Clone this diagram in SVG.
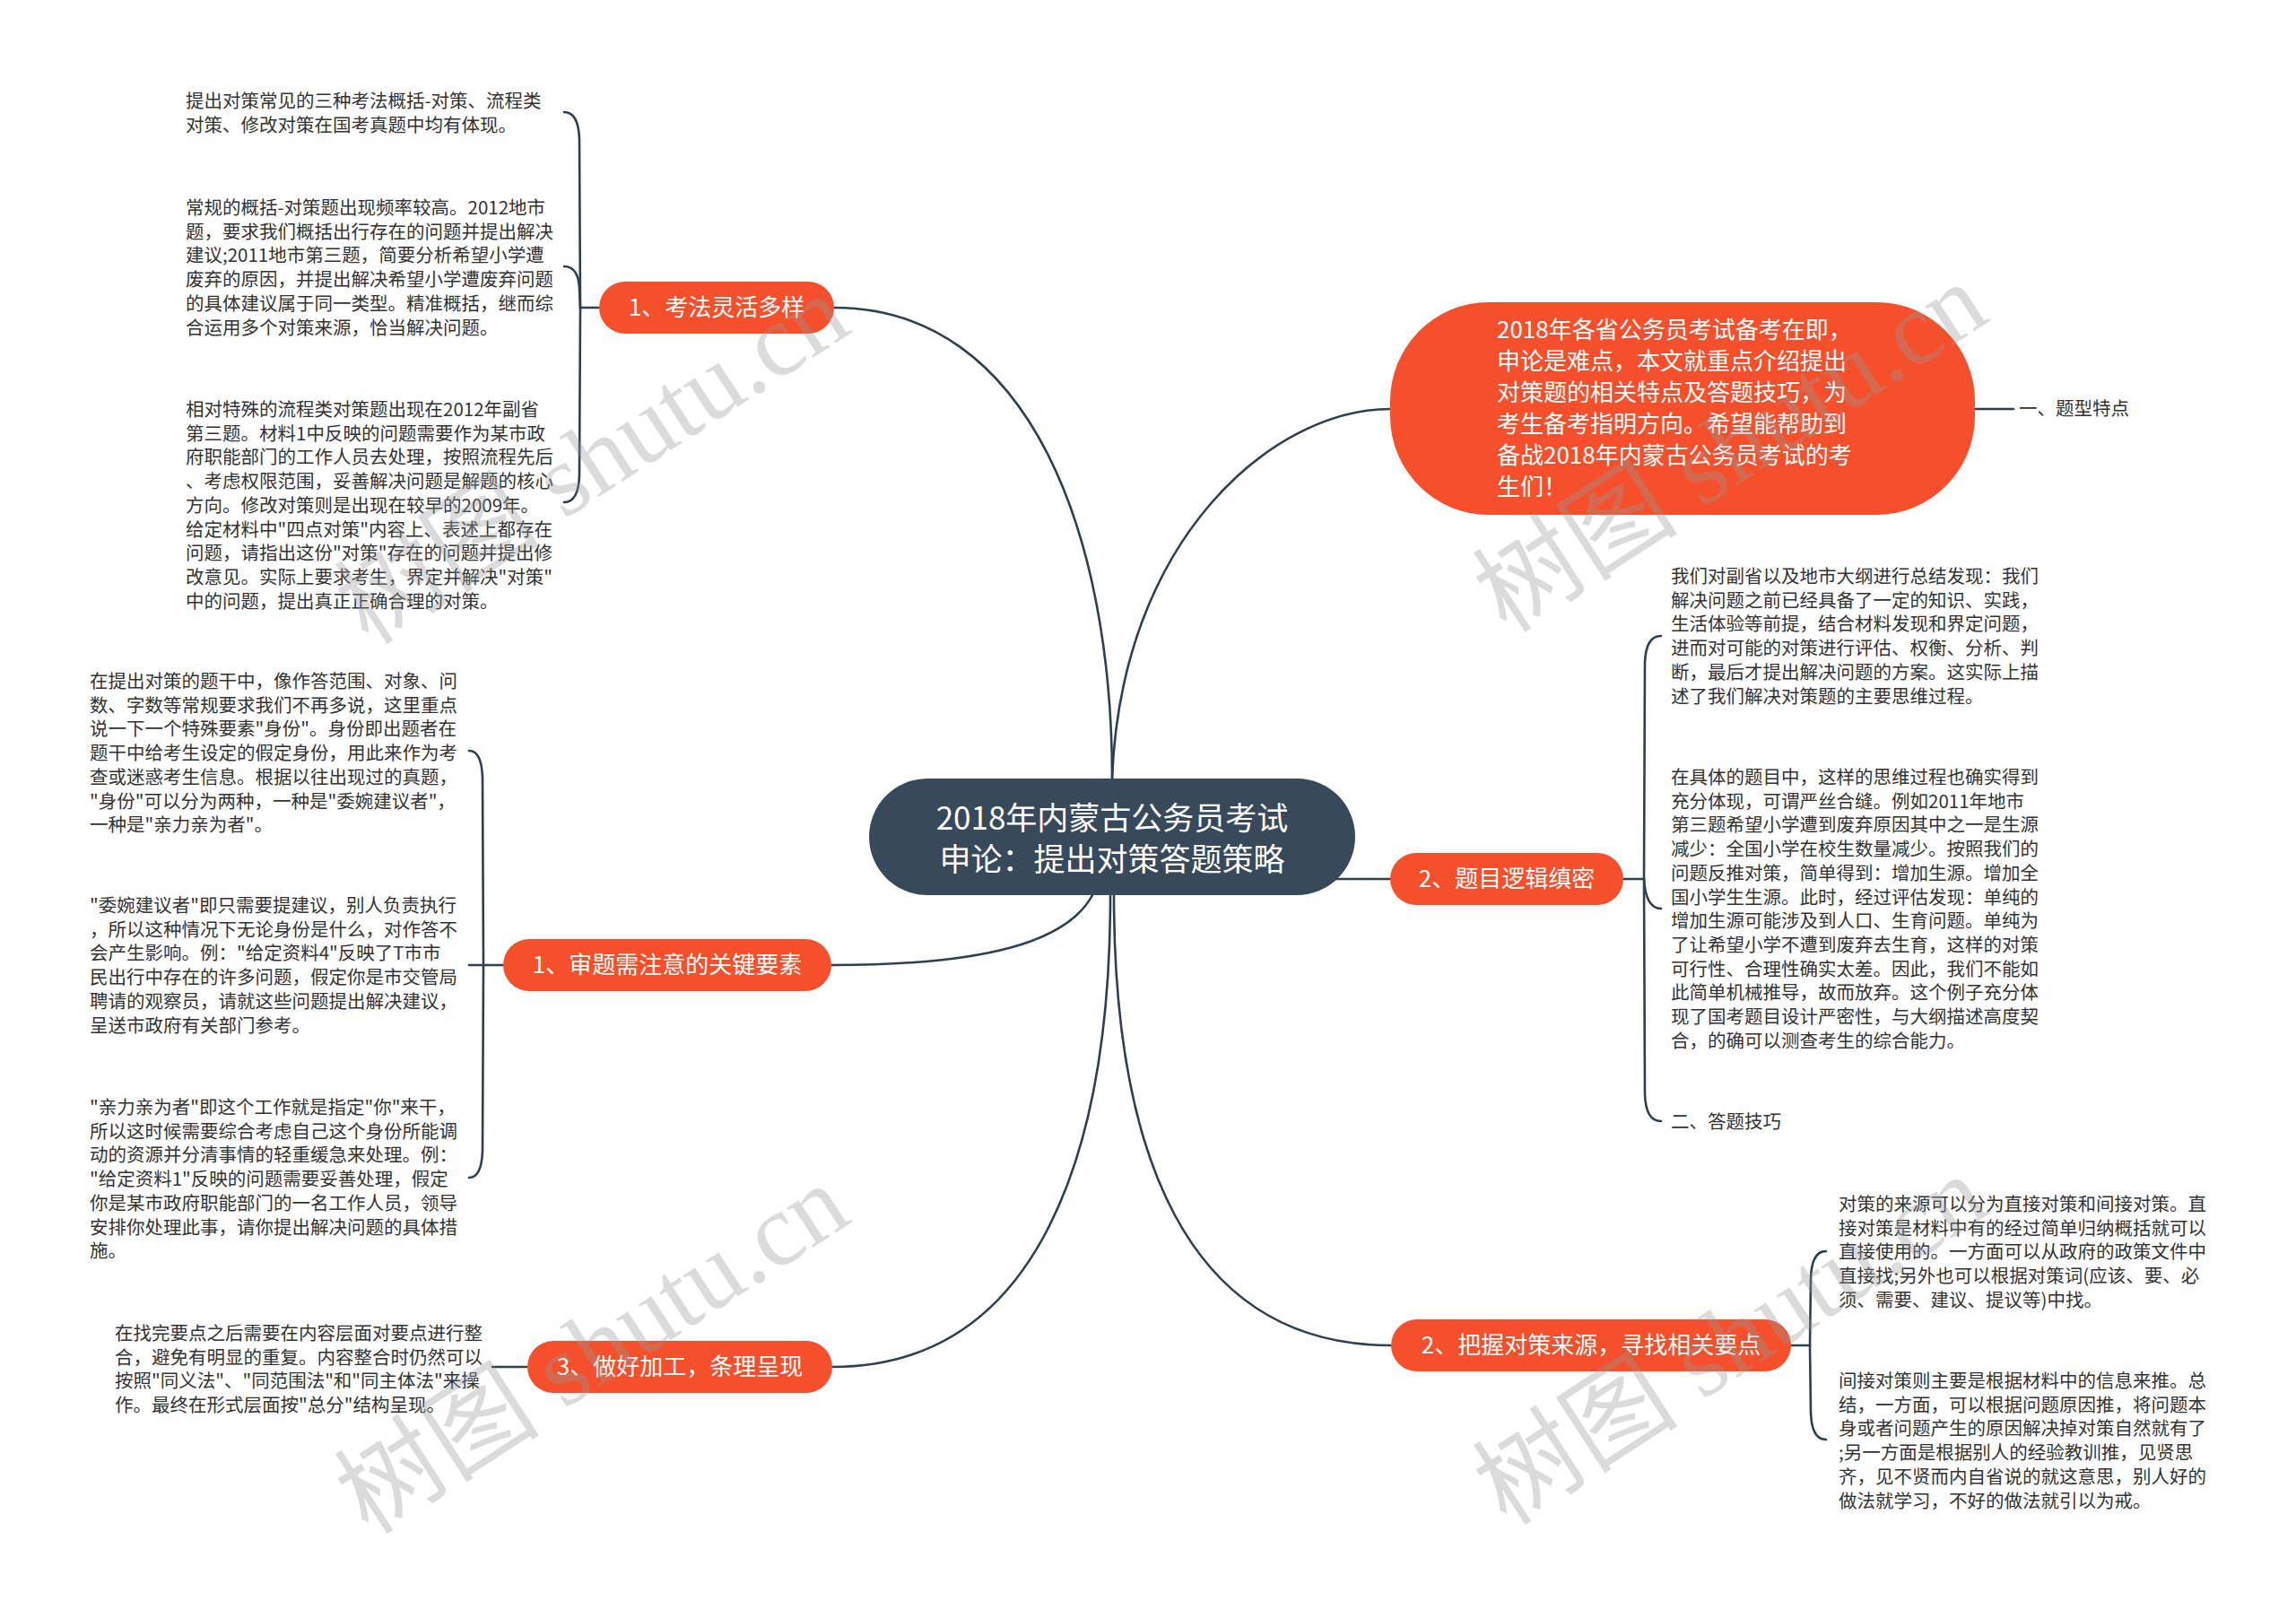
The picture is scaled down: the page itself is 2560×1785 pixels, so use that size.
<svg xmlns="http://www.w3.org/2000/svg" width="2560" height="1785" viewBox="0 0 2560 1785">
<style>
.bg{fill:#ffffff}
.conn path{fill:none;stroke:#2e3f50;stroke-width:2.6;stroke-linecap:round}
.root rect{fill:#37495a}
.br rect{fill:#f5502b}
.root text{font-family:"Noto Sans CJK SC","Noto Sans",sans-serif;font-size:35px;fill:#ffffff;text-anchor:middle}
.br text{font-family:"Noto Sans CJK SC","Noto Sans",sans-serif;font-size:26px;fill:#ffffff;text-anchor:middle}
.br text.intro{text-anchor:start}
.leaf text{font-family:"Noto Sans CJK SC","Noto Sans",sans-serif;font-size:20.5px;fill:#333333}
.wm text{font-family:"Liberation Serif","Noto Sans CJK SC",serif;font-size:115px;fill:#999999;fill-opacity:0.35;text-anchor:middle}
</style>
<rect class="bg" x="0" y="0" width="2560" height="1785"/>

<g id="connectors" class="conn">
  <!-- central to branches -->
  <path d="M1240,868 C1240,600 1150,343 930,343"/>
  <path d="M1240,868 C1250,600 1420,456 1550,456"/>
  <path d="M1489,980 L1550,980"/>
  <path d="M1218,998 C1190,1050 1100,1076 927,1076"/>
  <path d="M1238,998 C1238,1280 1160,1524 928,1524"/>
  <path d="M1242,998 C1242,1280 1320,1500 1551,1500"/>
  <!-- node 1 brace -->
  <path d="M668,343 L647,343"/>
  <path d="M647,343 L646,155 Q645,125 629,125"/>
  <path d="M647,343 L646,322 Q645,297 629,297"/>
  <path d="M647,343 L646,530 Q645,560 629,560"/>
  <!-- node 2 brace -->
  <path d="M561,1076 L523,1076"/>
  <path d="M539,1076 L538,867 Q537,837 523,837"/>
  <path d="M539,1076 L538,1283 Q537,1313 523,1313"/>
  <!-- node 3 -->
  <path d="M588,1524 L549,1524"/>
  <!-- intro -->
  <path d="M2202,456 L2245,456"/>
  <!-- logic node brace -->
  <path d="M1810,980 L1833,980"/>
  <path d="M1833,980 L1834,739 Q1835,709 1852,709"/>
  <path d="M1833,980 Q1835,1013 1852,1013"/>
  <path d="M1833,980 L1834,1220 Q1835,1250 1852,1250"/>
  <!-- source node brace -->
  <path d="M1997,1500 L2018,1500"/>
  <path d="M2018,1500 L2019,1425 Q2020,1395 2036,1395"/>
  <path d="M2018,1500 L2019,1575 Q2020,1605 2036,1605"/>
</g>

<g id="root" class="root">
  <rect x="969" y="868" width="542" height="130" rx="65" ry="65"/>
  <text x="1240" y="925">2018年内蒙古公务员考试</text>
  <text x="1240" y="971">申论：提出对策答题策略</text>
</g>

<g id="b1" class="br">
  <rect x="668" y="314" width="262" height="58" rx="29"/>
  <text x="799" y="352">1、考法灵活多样</text>
</g>
<g id="b2" class="br">
  <rect x="561" y="1047" width="366" height="58" rx="29"/>
  <text x="744" y="1085">1、审题需注意的关键要素</text>
</g>
<g id="b3" class="br">
  <rect x="588" y="1495" width="340" height="58" rx="29"/>
  <text x="758" y="1533">3、做好加工，条理呈现</text>
</g>
<g id="b4" class="br">
  <rect x="1550" y="337" width="652" height="237" rx="110"/>
  <text class="intro" x="1669" y="377">2018年各省公务员考试备考在即，</text>
  <text class="intro" x="1669" y="412">申论是难点，本文就重点介绍提出</text>
  <text class="intro" x="1669" y="447">对策题的相关特点及答题技巧，为</text>
  <text class="intro" x="1669" y="482">考生备考指明方向。希望能帮助到</text>
  <text class="intro" x="1669" y="517">备战2018年内蒙古公务员考试的考</text>
  <text class="intro" x="1669" y="552">生们！</text>
</g>
<g id="b5" class="br">
  <rect x="1550" y="951" width="260" height="58" rx="29"/>
  <text x="1680" y="989">2、题目逻辑缜密</text>
</g>
<g id="b6" class="br">
  <rect x="1551" y="1471" width="446" height="58" rx="29"/>
  <text x="1774" y="1509">2、把握对策来源，寻找相关要点</text>
</g>

<g id="l1" class="leaf"><text x="207" y="120">
<tspan x="207" dy="0">提出对策常见的三种考法概括-对策、流程类</tspan>
<tspan x="207" dy="26.7">对策、修改对策在国考真题中均有体现。</tspan></text></g>

<g id="l2" class="leaf"><text x="207" y="239">
<tspan x="207" dy="0">常规的概括-对策题出现频率较高。2012地市</tspan>
<tspan x="207" dy="26.7">题，要求我们概括出行存在的问题并提出解决</tspan>
<tspan x="207" dy="26.7">建议;2011地市第三题，简要分析希望小学遭</tspan>
<tspan x="207" dy="26.7">废弃的原因，并提出解决希望小学遭废弃问题</tspan>
<tspan x="207" dy="26.7">的具体建议属于同一类型。精准概括，继而综</tspan>
<tspan x="207" dy="26.7">合运用多个对策来源，恰当解决问题。</tspan></text></g>

<g id="l3" class="leaf"><text x="207" y="464">
<tspan x="207" dy="0">相对特殊的流程类对策题出现在2012年副省</tspan>
<tspan x="207" dy="26.7">第三题。材料1中反映的问题需要作为某市政</tspan>
<tspan x="207" dy="26.7">府职能部门的工作人员去处理，按照流程先后</tspan>
<tspan x="207" dy="26.7">、考虑权限范围，妥善解决问题是解题的核心</tspan>
<tspan x="207" dy="26.7">方向。修改对策则是出现在较早的2009年。</tspan>
<tspan x="207" dy="26.7">给定材料中"四点对策"内容上、表述上都存在</tspan>
<tspan x="207" dy="26.7">问题，请指出这份"对策"存在的问题并提出修</tspan>
<tspan x="207" dy="26.7">改意见。实际上要求考生，界定并解决"对策"</tspan>
<tspan x="207" dy="26.7">中的问题，提出真正正确合理的对策。</tspan></text></g>

<g id="l4" class="leaf"><text x="100" y="767">
<tspan x="100" dy="0">在提出对策的题干中，像作答范围、对象、问</tspan>
<tspan x="100" dy="26.7">数、字数等常规要求我们不再多说，这里重点</tspan>
<tspan x="100" dy="26.7">说一下一个特殊要素"身份"。身份即出题者在</tspan>
<tspan x="100" dy="26.7">题干中给考生设定的假定身份，用此来作为考</tspan>
<tspan x="100" dy="26.7">查或迷惑考生信息。根据以往出现过的真题，</tspan>
<tspan x="100" dy="26.7">"身份"可以分为两种，一种是"委婉建议者"，</tspan>
<tspan x="100" dy="26.7">一种是"亲力亲为者"。</tspan></text></g>

<g id="l5" class="leaf"><text x="100" y="1017">
<tspan x="100" dy="0">"委婉建议者"即只需要提建议，别人负责执行</tspan>
<tspan x="100" dy="26.7">，所以这种情况下无论身份是什么，对作答不</tspan>
<tspan x="100" dy="26.7">会产生影响。例："给定资料4"反映了T市市</tspan>
<tspan x="100" dy="26.7">民出行中存在的许多问题，假定你是市交管局</tspan>
<tspan x="100" dy="26.7">聘请的观察员，请就这些问题提出解决建议，</tspan>
<tspan x="100" dy="26.7">呈送市政府有关部门参考。</tspan></text></g>

<g id="l6" class="leaf"><text x="100" y="1242">
<tspan x="100" dy="0">"亲力亲为者"即这个工作就是指定"你"来干，</tspan>
<tspan x="100" dy="26.7">所以这时候需要综合考虑自己这个身份所能调</tspan>
<tspan x="100" dy="26.7">动的资源并分清事情的轻重缓急来处理。例：</tspan>
<tspan x="100" dy="26.7">"给定资料1"反映的问题需要妥善处理，假定</tspan>
<tspan x="100" dy="26.7">你是某市政府职能部门的一名工作人员，领导</tspan>
<tspan x="100" dy="26.7">安排你处理此事，请你提出解决问题的具体措</tspan>
<tspan x="100" dy="26.7">施。</tspan></text></g>

<g id="l7" class="leaf"><text x="128" y="1494">
<tspan x="128" dy="0">在找完要点之后需要在内容层面对要点进行整</tspan>
<tspan x="128" dy="26.7">合，避免有明显的重复。内容整合时仍然可以</tspan>
<tspan x="128" dy="26.7">按照"同义法"、"同范围法"和"同主体法"来操</tspan>
<tspan x="128" dy="26.7">作。最终在形式层面按"总分"结构呈现。</tspan></text></g>

<g id="l8" class="leaf"><text x="2251" y="463">一、题型特点</text></g>

<g id="l9" class="leaf"><text x="1863" y="650">
<tspan x="1863" dy="0">我们对副省以及地市大纲进行总结发现：我们</tspan>
<tspan x="1863" dy="26.7">解决问题之前已经具备了一定的知识、实践，</tspan>
<tspan x="1863" dy="26.7">生活体验等前提，结合材料发现和界定问题，</tspan>
<tspan x="1863" dy="26.7">进而对可能的对策进行评估、权衡、分析、判</tspan>
<tspan x="1863" dy="26.7">断，最后才提出解决问题的方案。这实际上描</tspan>
<tspan x="1863" dy="26.7">述了我们解决对策题的主要思维过程。</tspan></text></g>

<g id="l10" class="leaf"><text x="1863" y="874">
<tspan x="1863" dy="0">在具体的题目中，这样的思维过程也确实得到</tspan>
<tspan x="1863" dy="26.7">充分体现，可谓严丝合缝。例如2011年地市</tspan>
<tspan x="1863" dy="26.7">第三题希望小学遭到废弃原因其中之一是生源</tspan>
<tspan x="1863" dy="26.7">减少：全国小学在校生数量减少。按照我们的</tspan>
<tspan x="1863" dy="26.7">问题反推对策，简单得到：增加生源。增加全</tspan>
<tspan x="1863" dy="26.7">国小学生生源。此时，经过评估发现：单纯的</tspan>
<tspan x="1863" dy="26.7">增加生源可能涉及到人口、生育问题。单纯为</tspan>
<tspan x="1863" dy="26.7">了让希望小学不遭到废弃去生育，这样的对策</tspan>
<tspan x="1863" dy="26.7">可行性、合理性确实太差。因此，我们不能如</tspan>
<tspan x="1863" dy="26.7">此简单机械推导，故而放弃。这个例子充分体</tspan>
<tspan x="1863" dy="26.7">现了国考题目设计严密性，与大纲描述高度契</tspan>
<tspan x="1863" dy="26.7">合，的确可以测查考生的综合能力。</tspan></text></g>

<g id="l11" class="leaf"><text x="1863" y="1258">二、答题技巧</text></g>

<g id="l12" class="leaf"><text x="2050" y="1350">
<tspan x="2050" dy="0">对策的来源可以分为直接对策和间接对策。直</tspan>
<tspan x="2050" dy="26.7">接对策是材料中有的经过简单归纳概括就可以</tspan>
<tspan x="2050" dy="26.7">直接使用的。一方面可以从政府的政策文件中</tspan>
<tspan x="2050" dy="26.7">直接找;另外也可以根据对策词(应该、要、必</tspan>
<tspan x="2050" dy="26.7">须、需要、建议、提议等)中找。</tspan></text></g>

<g id="l13" class="leaf"><text x="2050" y="1547">
<tspan x="2050" dy="0">间接对策则主要是根据材料中的信息来推。总</tspan>
<tspan x="2050" dy="26.7">结，一方面，可以根据问题原因推，将问题本</tspan>
<tspan x="2050" dy="26.7">身或者问题产生的原因解决掉对策自然就有了</tspan>
<tspan x="2050" dy="26.7">;另一方面是根据别人的经验教训推，见贤思</tspan>
<tspan x="2050" dy="26.7">齐，见不贤而内自省说的就这意思，别人好的</tspan>
<tspan x="2050" dy="26.7">做法就学习，不好的做法就引以为戒。</tspan></text></g>

<g id="watermarks" class="wm">
  <text transform="translate(661,513) rotate(-33)" x="0" y="38">树图 shutu.cn</text>
  <text transform="translate(1930,500) rotate(-33)" x="0" y="38">树图 shutu.cn</text>
  <text transform="translate(661,1505) rotate(-33)" x="0" y="38">树图 shutu.cn</text>
  <text transform="translate(1930,1495) rotate(-33)" x="0" y="38">树图 shutu.cn</text>
</g>
</svg>
